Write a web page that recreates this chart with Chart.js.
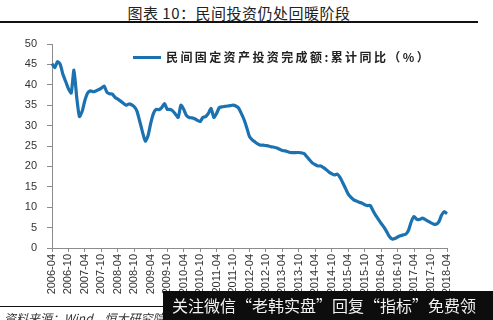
<!DOCTYPE html>
<html>
<head>
<meta charset="utf-8">
<script src="https://cdn.jsdelivr.net/npm/chart.js@4"></script>
<style>
  html, body { margin:0; padding:0; background:#fff; }
  #wrap { position:relative; width:493px; height:320px; overflow:hidden; font-family:"Noto Sans CJK SC", sans-serif; }
  #chart { position:absolute; left:0; top:0; }
  .title { position:absolute; left:0; width:478px; top:2px; text-align:center; font-size:15px; color:#222; letter-spacing:0.5px; }
  .rule-top { position:absolute; left:0; top:21px; width:478px; height:2px; background:#111; }
  .legend { position:absolute; left:133px; top:48px; font-size:12px; font-weight:bold; color:#222; letter-spacing:2.4px; white-space:nowrap; }
  .legend i { display:inline-block; width:28px; height:3px; background:#1C72B0; vertical-align:middle; margin-right:5px; margin-top:-3px; }
  .rule-bot { position:absolute; left:0; top:306px; width:478px; height:1px; background:#111; }
  .source { position:absolute; left:4px; top:309px; font-size:12px; font-style:italic; color:#333; white-space:nowrap; }
  .ad { position:absolute; left:163px; top:291px; width:330px; height:29px; background:#0d0d0d; color:#f2f2f2; font-size:16px; line-height:29px; padding-left:9px; box-sizing:border-box; white-space:nowrap; }
</style>
</head>
<body>
<div id="wrap">
  <div class="title">图表 10：民间投资仍处回暖阶段</div>
  <div class="rule-top"></div>
  <canvas id="chart" width="493" height="320"></canvas>
  <div class="legend"><i></i>民间固定资产投资完成额:累计同比（%）</div>
  <div class="rule-bot"></div>
  <div class="source">资料来源：Wind，恒大研究院</div>
  <div class="ad">关注微信“老韩实盘”回复“指标”免费领</div>
</div>
<script>
  // 月份 2006-04 .. 2018-04
  const startYear = 2006, startMonth = 4, monthCount = 145;
  const months = [];
  for (let i = 0; i < monthCount; i++) {
    const t = startMonth - 1 + i;
    const y = startYear + Math.floor(t / 12);
    const m = (t % 12) + 1;
    months.push(y + '-' + (m < 10 ? '0' + m : m));
  }

  // 民间固定资产投资完成额:累计同比（%）
  const privateFai = [
    45.2, 44.2, 45.7, 45.0, 42.5, 40.8, 39.0, 38.0, 43.6, 37.0, 32.2, 33.5,   // 2006-04 ..
    36.2, 38.0, 38.5, 38.3, 38.5, 38.8, 39.2, 39.7, 38.2, 37.8, 37.7, 36.9,   // 2007-04 ..
    36.5, 36.0, 35.5, 35.0, 35.3, 35.1, 34.6, 33.5, 31.0, 28.4, 26.2, 27.5,   // 2008-04 ..
    30.6, 33.0, 34.0, 33.9, 34.4, 35.4, 34.0, 34.0, 33.6, 32.8, 32.0, 35.0,   // 2009-04 ..
    34.0, 32.5, 32.0, 31.9, 31.7, 31.3, 31.0, 32.0, 32.2, 33.0, 34.2, 32.0,   // 2010-04 ..
    33.0, 34.4, 34.6, 34.7, 34.8, 34.9, 35.0, 34.8, 34.3, 33.0, 31.5, 29.5,   // 2011-04 ..
    27.3, 26.5, 26.0, 25.5, 25.2, 25.2, 25.1, 25.0, 24.8, 24.7, 24.5, 24.2,   // 2012-04 ..
    23.9, 23.8, 23.6, 23.4, 23.4, 23.4, 23.4, 23.3, 23.1, 22.3, 21.5, 20.8,   // 2013-04 ..
    20.4, 20.1, 20.1, 19.7, 19.2, 18.6, 18.2, 17.9, 18.1, 17.3, 16.0, 14.6,   // 2014-04 ..
    13.2, 12.4, 11.8, 11.5, 11.2, 11.0, 10.6, 10.4, 10.4, 9.2, 8.0, 7.0,      // 2015-04 ..
    6.0, 5.1, 4.0, 2.8, 2.2, 2.3, 2.7, 3.0, 3.2, 3.4, 4.4, 6.5,               // 2016-04 ..
    7.7, 7.0, 7.0, 7.3, 7.0, 6.6, 6.2, 5.9, 5.8, 6.4, 8.0, 8.9,               // 2017-04 ..
    8.4                                                                       // 2018-04
  ];

  const yTicks = [0, 5, 10, 15, 20, 25, 30, 35, 40, 45, 50];
  const labelEvery = 6;

  const axisGray = '#8c8c8c';
  const tickFont = { family: '"Liberation Sans", Arial, sans-serif', size: 11 };

  new Chart(document.getElementById('chart'), {
    type: 'line',
    data: {
      labels: months,
      datasets: [{
        data: privateFai,
        borderColor: '#1C72B0',
        borderWidth: 3.2,
        pointRadius: 0,
        tension: 0.2,
        fill: false
      }]
    },
    options: {
      responsive: false,
      animation: false,
      layout: { padding: { left: 0, right: 46, top: 44, bottom: 22 } },
      plugins: { legend: { display: false }, tooltip: { enabled: false } },
      scales: {
        x: {
          type: 'category',
          offset: false,
          grid: { drawOnChartArea: false, drawTicks: true, tickLength: 4, color: axisGray },
          border: { color: axisGray },
          ticks: {
            autoSkip: false,
            maxRotation: 90,
            minRotation: 90,
            padding: 2,
            color: '#333',
            font: tickFont,
            callback: function(v, i) { return i % labelEvery === 0 ? months[i] : null; }
          },
          afterFit: function(s) { s.height = 50; }
        },
        y: {
          min: 0,
          max: 50,
          afterBuildTicks: function(s) { s.ticks = yTicks.map(v => ({ value: v })); },
          grid: { drawOnChartArea: false, drawTicks: true, tickLength: 5, color: axisGray },
          border: { color: axisGray },
          ticks: { padding: 10, color: '#333', font: tickFont },
          afterFit: function(s) { s.width = 52; }
        }
      }
    }
  });
</script>
</body>
</html>
